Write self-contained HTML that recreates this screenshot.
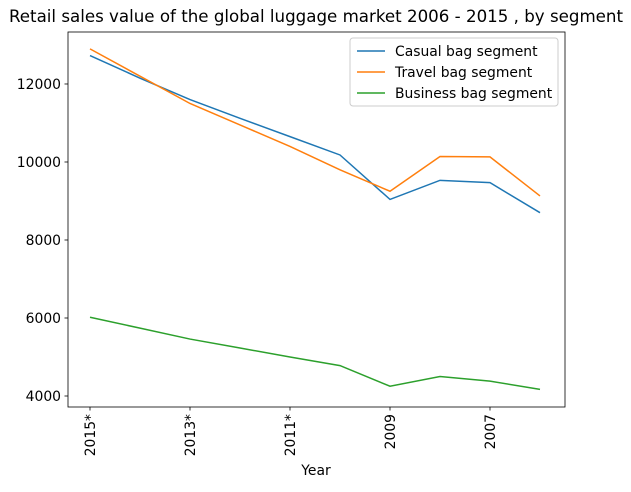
<!DOCTYPE html>
<html><head><meta charset="utf-8"><style>
body{margin:0;background:#fff;font-family:"DejaVu Sans","Liberation Sans",sans-serif}
svg text{font-family:"DejaVu Sans","Liberation Sans",sans-serif}
</style></head><body>
<svg id="chart" width="631" height="488" xmlns="http://www.w3.org/2000/svg">
<text x="316" y="22" text-anchor="middle" font-size="16.67" fill="#000">Retail sales value of the global luggage market 2006 - 2015 , by segment</text>
<g id="plot"></g>
<text x="316" y="475" text-anchor="middle" font-size="13.9">Year</text>
</svg>
<script>
const categories=["2015*","2014*","2013*","2012*","2011*","2010","2009","2008","2007","2006"];
const casual=[12730,12150,11600,11120,10650,10180,9040,9530,9470,8700];
const travel=[12900,12200,11500,10950,10400,9800,9250,10140,10130,9130];
const business=[6020,5740,5460,5230,5000,4780,4250,4500,4380,4170];
const yTicks=[4000,6000,8000,10000,12000];
const xTickLabels=["2015*","2013*","2011*","2009","2007"];
const seriesNames=["Casual bag segment","Travel bag segment","Business bag segment"];
const colors=["#1f77b4","#ff7f0e","#2ca02c"];
const L=68,R=565,T=32,B=407,yMin=3718,yMax=13333;
const ns="http://www.w3.org/2000/svg";
const g=document.getElementById('plot');
const xs=i=>90+i*(450/(categories.length-1));
const ys=v=>B-(v-yMin)/(yMax-yMin)*(B-T);
function mk(t,a){const e=document.createElementNS(ns,t);for(const k in a)e.setAttribute(k,a[k]);g.appendChild(e);return e;}
[casual,travel,business].forEach((s,si)=>{
 const p=mk('polyline',{points:s.map((v,i)=>xs(i)+','+ys(v)).join(' '),fill:'none',stroke:colors[si],'stroke-width':1.5});
 
 
});
const frame=mk('rect',{x:L,y:T,width:R-L,height:B-T,fill:'none',stroke:'#000','stroke-width':0.8});


yTicks.forEach(v=>{
 mk('line',{x1:L-3.5,x2:L,y1:ys(v),y2:ys(v),stroke:'#000','stroke-width':0.8});
 const t=mk('text',{x:L-7,y:ys(v)+5,'text-anchor':'end','font-size':13.9});t.textContent=v;
 
 
});
xTickLabels.forEach(lab=>{
 const i=categories.indexOf(lab),x=xs(i);
 mk('line',{x1:x,x2:x,y1:B,y2:B+3.5,stroke:'#000','stroke-width':0.8});
 const t=mk('text',{x:0,y:0,'text-anchor':'end','font-size':13.9,transform:`translate(${x+5},${B+7}) rotate(-90)`});t.textContent=lab;
 
 
});
const lg=mk('rect',{x:350,y:38,width:208,height:68,rx:3,fill:'#fff',stroke:'#ccc','stroke-width':1});


seriesNames.forEach((n,i)=>{
 const y=51+i*21;
 mk('line',{x1:357,x2:385,y1:y,y2:y,stroke:colors[i],'stroke-width':1.5});
 const t=mk('text',{x:395,y:y+5,'font-size':13.9});t.textContent=n;
 
 
});
</script>
</body></html>
